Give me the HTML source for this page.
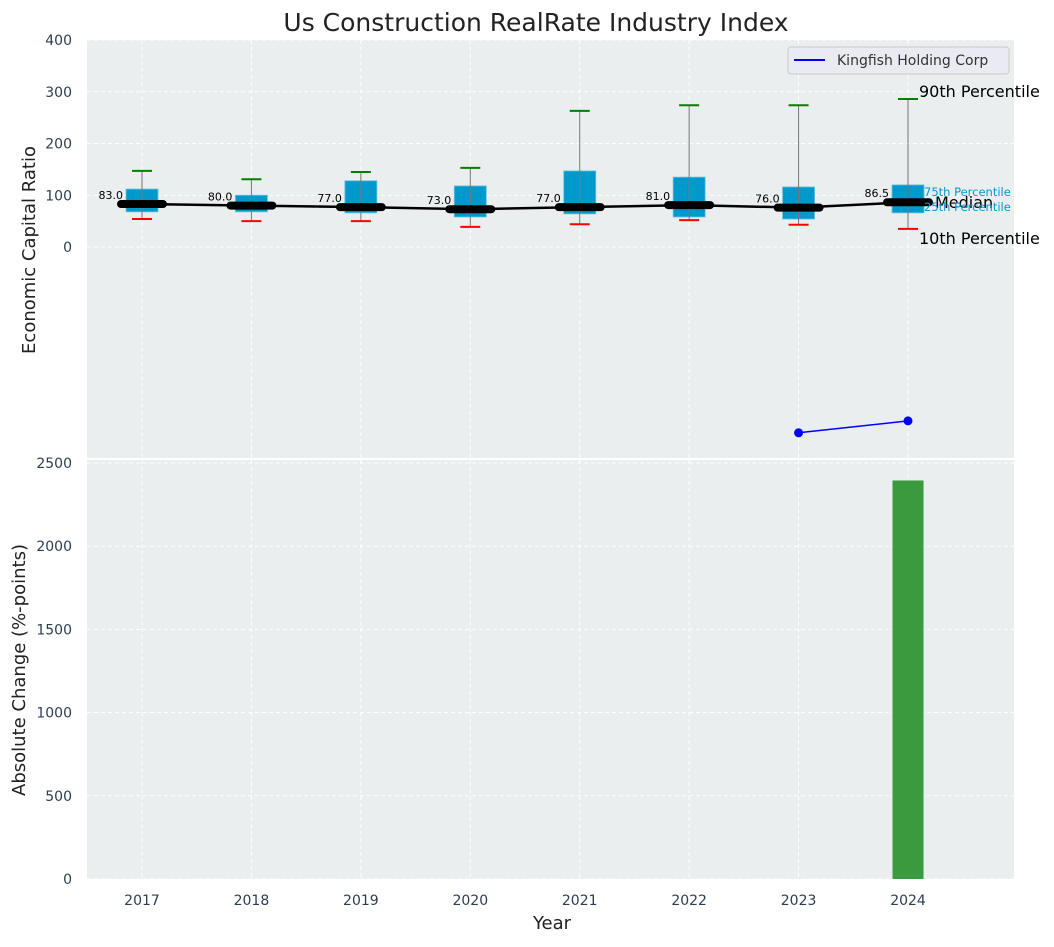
<!DOCTYPE html>
<html><head><meta charset="utf-8"><style>
body{margin:0;background:#fff;font-family:"Liberation Sans","DejaVu Sans",sans-serif}
svg text{font-family:"DejaVu Sans","Liberation Sans",sans-serif}
</style></head><body>
<svg id="c" width="1054" height="942" xmlns="http://www.w3.org/2000/svg"></svg>
<script>
const years=[2017,2018,2019,2020,2021,2022,2023,2024];
const p90=[147,131,145,153,263,274,274,286];
const p75=[112,100,128,118,147,135,116,120];
const p25=[68,68,66,58,64,58,54,66];
const p10=[54,50,50,39,44,52,43,35];
const medians=[83,80,77,73,77,81,76,86.5];
const compYears=[2023,2024];
const compValues=[-359,-336];
const changeYears=[2024];
const changeValues=[2395];
const topTicks=[0,100,200,300,400];
const botTicks=[0,500,1000,1500,2000,2500];

const NS='http://www.w3.org/2000/svg';
const svg=document.getElementById('c');
function el(t,a,txt){const e=document.createElementNS(NS,t);for(const k in a)e.setAttribute(k,a[k]);if(txt!==undefined)e.textContent=txt;svg.appendChild(e);return e;}
const L=87,R=1014,T1=40,B1=458,T2=460,B2=879;
const x=v=>142+(v-2017)*109.43;
const y1=v=>247-v*0.5175;
const y2=v=>B2-v*(B2-463)/2500;

let e;
e=el('rect',{x:L,y:T1,width:R-L,height:B1-T1,fill:'#eaeeee'});

e=el('rect',{x:L,y:T2,width:R-L,height:B2-T2,fill:'#eaeeee'});

years.forEach(yr=>{
  el('line',{x1:x(yr),x2:x(yr),y1:T1,y2:B1,stroke:'#fff','stroke-dasharray':'4,3','stroke-width':1});
  el('line',{x1:x(yr),x2:x(yr),y1:T2,y2:B2,stroke:'#fff','stroke-dasharray':'4,3','stroke-width':1});
  e=el('text',{x:x(yr),y:905,'text-anchor':'middle','font-size':14,fill:'#2c3e50'},yr);
  
});
topTicks.forEach(t=>{
  el('line',{x1:L,x2:R,y1:y1(t),y2:y1(t),stroke:'#fff','stroke-dasharray':'4,3'});
  e=el('text',{x:72,y:y1(t)+5,'text-anchor':'end','font-size':14,fill:'#2c3e50'},t);
  
});
botTicks.forEach(t=>{
  el('line',{x1:L,x2:R,y1:y2(t),y2:y2(t),stroke:'#fff','stroke-dasharray':'4,3'});
  e=el('text',{x:72,y:y2(t)+5,'text-anchor':'end','font-size':14,fill:'#2c3e50'},t);
  
});
years.forEach((yr,i)=>{
  const cx=x(yr);
  e=el('rect',{x:cx-16,y:y1(p75[i]),width:32,height:y1(p25[i])-y1(p75[i]),fill:'#0099cc',stroke:'#66c2e0','stroke-width':0.8});
  
  el('line',{x1:cx,x2:cx,y1:y1(p90[i]),y2:y1(p10[i]),stroke:'#777','stroke-width':1});
  e=el('line',{x1:cx-10,x2:cx+10,y1:y1(p90[i]),y2:y1(p90[i]),stroke:'green','stroke-width':2});
  
  e=el('line',{x1:cx-10,x2:cx+10,y1:y1(p10[i]),y2:y1(p10[i]),stroke:'red','stroke-width':2});
  
});
e=el('polyline',{points:years.map((yr,i)=>x(yr)+','+y1(medians[i])).join(' '),fill:'none',stroke:'#000','stroke-width':2.5});

years.forEach((yr,i)=>{
  e=el('line',{x1:x(yr)-21,x2:x(yr)+21,y1:y1(medians[i]),y2:y1(medians[i]),stroke:'#000','stroke-width':8,'stroke-linecap':'round'});
  
  e=el('text',{x:x(yr)-19,y:y1(medians[i])-5,'text-anchor':'end','font-size':11,fill:'#000'},medians[i].toFixed(1));
  
});
e=el('polyline',{points:compYears.map((yr,i)=>x(yr)+','+y1(compValues[i])).join(' '),fill:'none',stroke:'#0000ff','stroke-width':1.5});

compYears.forEach((yr,i)=>{e=el('circle',{cx:x(yr),cy:y1(compValues[i]),r:4.5,fill:'#0000ff'});
  });
changeYears.forEach((yr,i)=>{e=el('rect',{x:x(yr)-15.5,y:y2(changeValues[i]),width:31,height:B2-y2(changeValues[i]),fill:'#3a9a3d'});
  });
[['90th Percentile',919,y1(p90[7])-2,16,'#000'],['10th Percentile',919,y1(p10[7])+15,16,'#000'],['Median',935,y1(medians[7])+6,16,'#000'],['75th Percentile',924,y1(p75[7])+11,11.5,'#0099cc'],['25th Percentile',924,y1(p25[7])-2,11.5,'#0099cc']].forEach(a=>{
  e=el('text',{x:a[1],y:a[2],'font-size':a[3],fill:a[4]},a[0]);
  
});
e=el('rect',{x:788,y:47,width:221,height:27,rx:3,fill:'#eaeaf2',stroke:'#ccc'});

el('line',{x1:794,x2:825,y1:60,y2:60,stroke:'#0000ff','stroke-width':2});
e=el('text',{x:837,y:65,'font-size':14,fill:'#333'},'Kingfish Holding Corp');

e=el('text',{x:536,y:31,'text-anchor':'middle','font-size':25,fill:'#222'},'Us Construction RealRate Industry Index');

e=el('text',{x:0,y:0,transform:'translate(35,250) rotate(-90)','text-anchor':'middle','font-size':18,fill:'#222'},'Economic Capital Ratio');

e=el('text',{x:0,y:0,transform:'translate(25,670) rotate(-90)','text-anchor':'middle','font-size':18,fill:'#222'},'Absolute Change (%-points)');

e=el('text',{x:552,y:929,'text-anchor':'middle','font-size':18,fill:'#222'},'Year');

</script>
</body></html>
